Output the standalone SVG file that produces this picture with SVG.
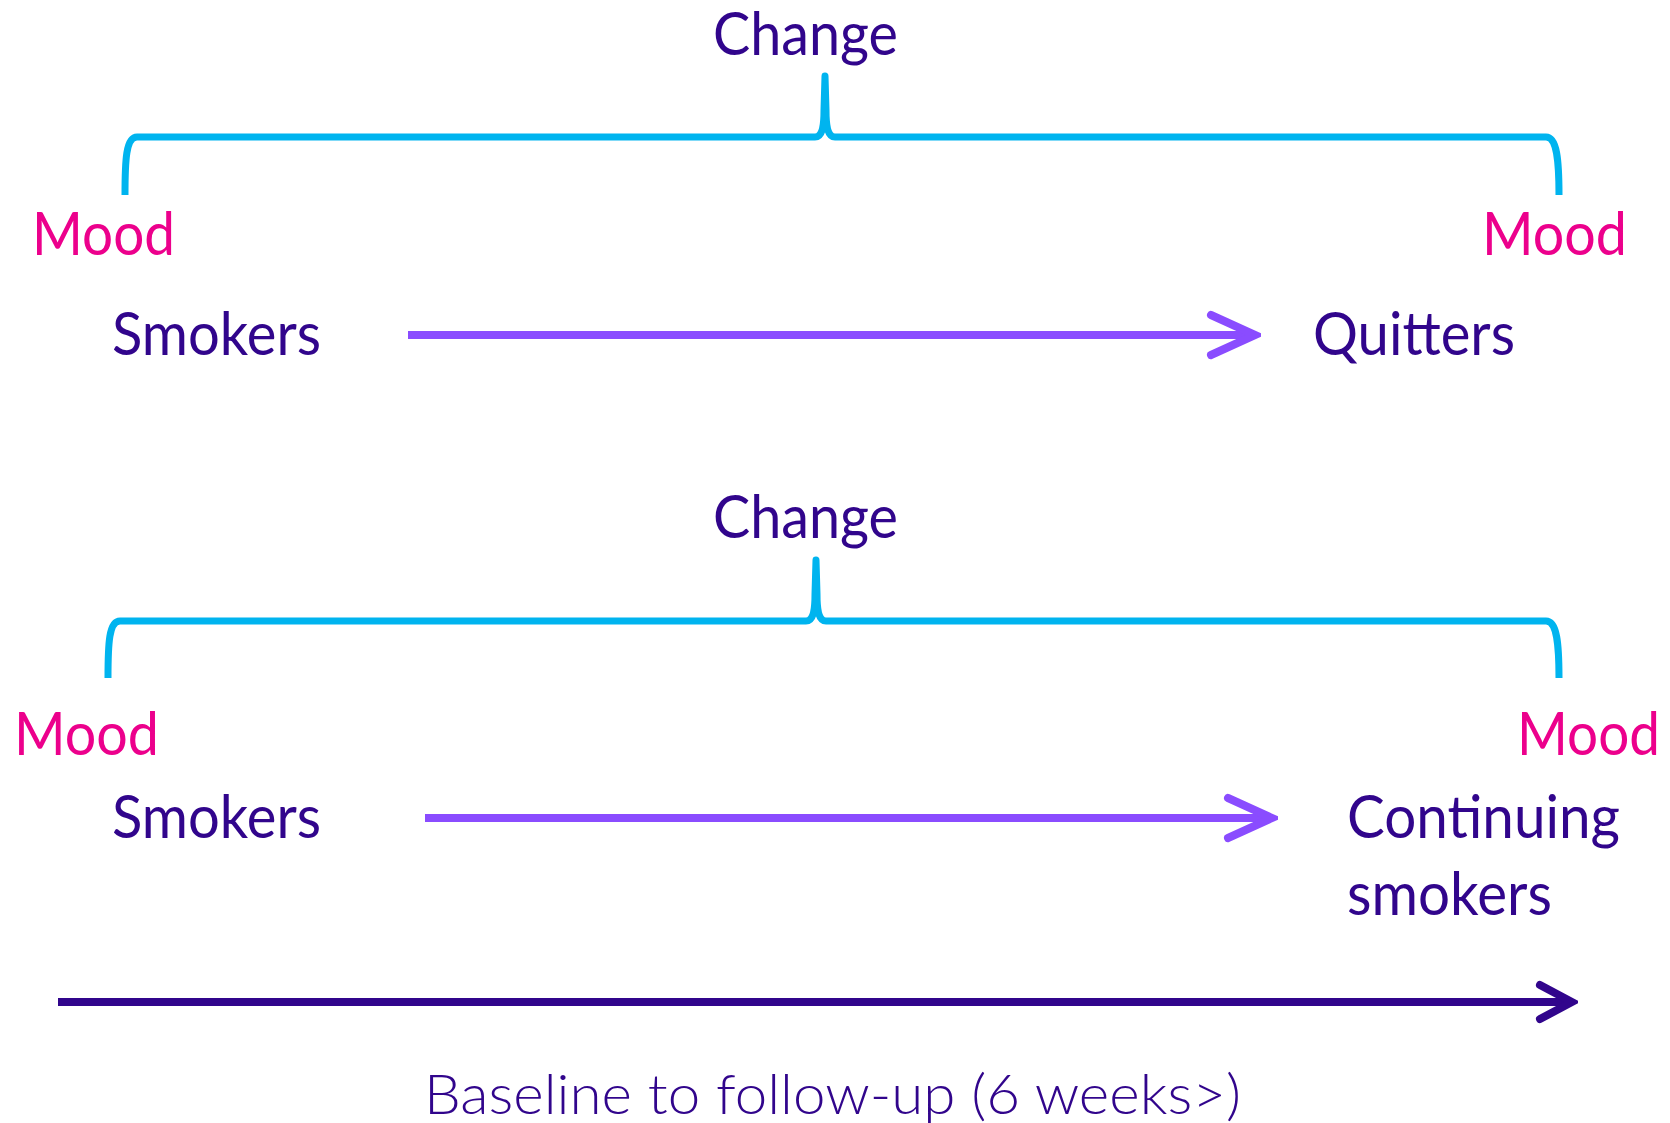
<svg xmlns="http://www.w3.org/2000/svg" width="1670" height="1123" viewBox="0 0 1670 1123">
<style>
.t{font-family:Lato,"Open Sans","Liberation Sans",sans-serif;font-size:60px;fill:#31058C}
.m{fill:#EC008C}
.light{font-weight:300;font-size:55px}
.brace{fill:none;stroke:#00B4EF;stroke-width:7;stroke-linejoin:round}
.va{fill:none;stroke:#8A4CFF;stroke-width:8}
.tl{fill:none;stroke:#31058C;stroke-width:8}
</style>
<defs>
<marker id="ahv" markerUnits="userSpaceOnUse" markerWidth="60" markerHeight="60" viewBox="-54 -30 60 60" refX="0" refY="0" orient="auto">
<path d="M-44,-20 L0,0 L-44,20" fill="none" stroke="#8A4CFF" stroke-width="8" stroke-linecap="round" stroke-linejoin="miter"/>
</marker>
<marker id="ahd" markerUnits="userSpaceOnUse" markerWidth="60" markerHeight="60" viewBox="-54 -30 60 60" refX="0" refY="0" orient="auto">
<path d="M-32,-17 L0,0 L-32,17" fill="none" stroke="#31058C" stroke-width="8" stroke-linecap="round" stroke-linejoin="miter"/>
</marker>
</defs>
<rect width="1670" height="1123" fill="#fff"/>

<g id="connectors">
<path class="brace" d="M125,195 C125,160 126,137 137,137 L815,137 C822,137 824,128 824,110 L825,76 L826,110 C826,128 828,137 835,137 L1546,137 C1557,137 1559,160 1559,195"/>
<path class="brace" d="M108,678 C108,643 109,621 120,621 L806,621 C813,621 815,612 815,594 L816,560 L817,594 C817,612 819,621 826,621 L1546,621 C1557,621 1559,643 1559,678"/>
<line class="va" x1="408" y1="335" x2="1255" y2="335" marker-end="url(#ahv)"/>
<line class="va" x1="425" y1="818" x2="1272" y2="818" marker-end="url(#ahv)"/>
<line class="tl" x1="58" y1="1002" x2="1572" y2="1002" marker-end="url(#ahd)"/>
</g>

<g id="top-change"><text class="t" x="713" y="55" textLength="185" lengthAdjust="spacingAndGlyphs">Change</text></g>
<g id="top-mood-left"><text class="t m" x="32" y="255" textLength="143" lengthAdjust="spacingAndGlyphs">Mood</text></g>
<g id="top-mood-right"><text class="t m" x="1482" y="255" textLength="145" lengthAdjust="spacingAndGlyphs">Mood</text></g>
<g id="top-smokers"><text class="t" x="112" y="355" textLength="209" lengthAdjust="spacingAndGlyphs">Smokers</text></g>
<g id="quitters"><text class="t" x="1313" y="355" textLength="202" lengthAdjust="spacingAndGlyphs">Quitters</text></g>

<g id="bottom-change"><text class="t" x="713" y="538" textLength="185" lengthAdjust="spacingAndGlyphs">Change</text></g>
<g id="bottom-mood-left"><text class="t m" x="14" y="755" textLength="145" lengthAdjust="spacingAndGlyphs">Mood</text></g>
<g id="bottom-mood-right"><text class="t m" x="1517" y="755" textLength="143" lengthAdjust="spacingAndGlyphs">Mood</text></g>
<g id="bottom-smokers"><text class="t" x="112" y="838" textLength="209" lengthAdjust="spacingAndGlyphs">Smokers</text></g>
<g id="continuing-smokers">
<text class="t" x="1347" y="838" textLength="273" lengthAdjust="spacingAndGlyphs">Continuing</text>
<text class="t" x="1347" y="915" textLength="205" lengthAdjust="spacingAndGlyphs">smokers</text>
</g>
<g id="timeline-label"><text class="t light" x="424" y="1114" textLength="817" lengthAdjust="spacingAndGlyphs">Baseline to follow-up (6 weeks&gt;)</text></g>
</svg>
